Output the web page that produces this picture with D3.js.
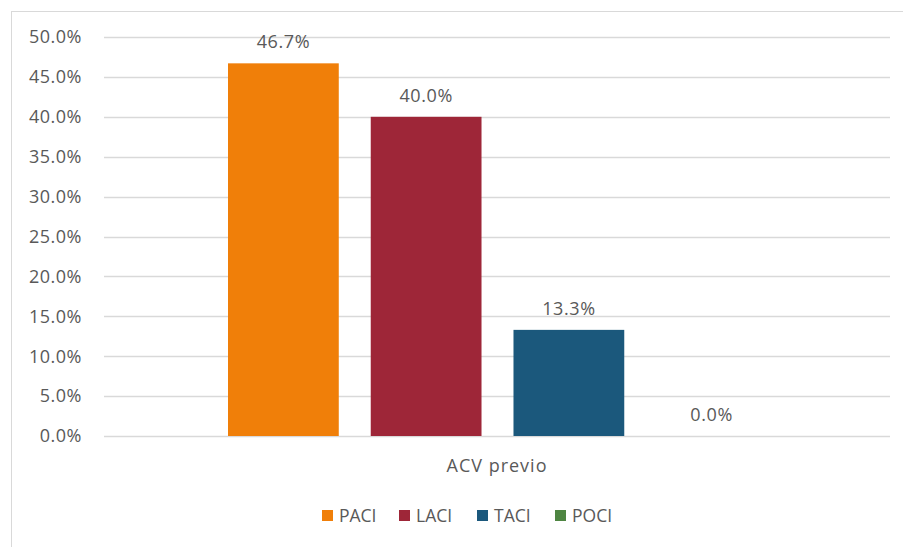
<!DOCTYPE html>
<html>
<head>
<meta charset="utf-8">
<script src="https://cdn.jsdelivr.net/npm/d3@7"></script>
<style>
  body { margin: 0; background: #fff; }
  text { font-family: 'Open Sans', sans-serif; fill: #595959; }
</style>
</head>
<body>
<div id="chart"></div>
<script>
const categories = ['ACV previo']
const seriesNames = ['PACI', 'LACI', 'TACI', 'POCI']
const seriesValues = [46.7, 40.0, 13.3, 0.0]
const colors = ['#F07F09', '#9E2638', '#1B587C', '#4E8542']
const yTicks = [0, 5, 10, 15, 20, 25, 30, 35, 40, 45, 50]

const W = 903
const H = 547
const margin = { top: 37, left: 104, right: 13, bottom: 111 }
const width = W - margin.left - margin.right
const height = H - margin.top - margin.bottom

const svg = d3.select('#chart')
  .append('svg')
  .attr('width', W)
  .attr('height', H)

// frame
svg.append('rect')
  .attr('x', 11.5)
  .attr('y', 11.5)
  .attr('width', W)
  .attr('height', H)
  .attr('fill', 'none')
  .attr('stroke', '#d9d9d9')

const g = svg.append('g')
  .attr('transform', 'translate(' + margin.left + ',' + margin.top + ')')

const x0 = d3.scaleBand()
  .domain(categories)
  .range([0, width])

const x1 = d3.scaleBand()
  .domain(seriesNames)
  .range([124, width - 123])
  .paddingInner(0.224)

const y = d3.scaleLinear()
  .domain([0, 50])
  .range([height, 0])

// gridlines
g.append('g')
  .selectAll('line')
  .data(yTicks)
  .enter().append('line')
  .attr('x1', 0)
  .attr('x2', width)
  .attr('y1', d => Math.round(y(d)) + 0.5)
  .attr('y2', d => Math.round(y(d)) + 0.5)
  .attr('stroke', '#d9d9d9')
  .attr('stroke-width', 1.3)

// y axis labels
g.append('g')
  .selectAll('text')
  .data(yTicks)
  .enter().append('text')
  .attr('x', -22)
  .attr('y', d => y(d))
  .attr('dy', '0.35em')
  .attr('text-anchor', 'end')
  .attr('font-size', 18)
  .attr('letter-spacing', 0.5)
  .text(d => d3.format('.1f')(d) + '%')

// bars
const bars = seriesNames.map((s, i) => ({ name: s, value: seriesValues[i], color: colors[i] }))

g.append('g')
  .selectAll('rect')
  .data(bars)
  .enter().append('rect')
  .attr('x', d => x0(categories[0]) + x1(d.name))
  .attr('y', d => y(d.value))
  .attr('width', x1.bandwidth())
  .attr('height', d => height - y(d.value))
  .attr('fill', d => d.color)

// data labels
g.append('g')
  .selectAll('text')
  .data(bars)
  .enter().append('text')
  .attr('x', d => x0(categories[0]) + x1(d.name) + x1.bandwidth() / 2)
  .attr('y', d => y(d.value) - 15)
  .attr('text-anchor', 'middle')
  .attr('font-size', 18)
  .attr('letter-spacing', 0.6)
  .text(d => d.value.toFixed(1) + '%')

// category label
g.append('text')
  .attr('x', x0(categories[0]) + x0.bandwidth() / 2)
  .attr('y', height + 36)
  .attr('text-anchor', 'middle')
  .attr('font-size', 18)
  .attr('letter-spacing', 1)
  .text(categories[0])

// legend
const legendX = [322, 399, 477, 555]
const legend = svg.append('g')
  .selectAll('g')
  .data(bars)
  .enter().append('g')
  .attr('transform', (d, i) => 'translate(' + legendX[i] + ',510)')

legend.append('rect')
  .attr('width', 11)
  .attr('height', 11)
  .attr('fill', d => d.color)

legend.append('text')
  .attr('x', 17)
  .attr('y', 6)
  .attr('dy', '0.35em')
  .attr('font-size', 17.5)
  .text(d => d.name)
</script>
</body>
</html>
